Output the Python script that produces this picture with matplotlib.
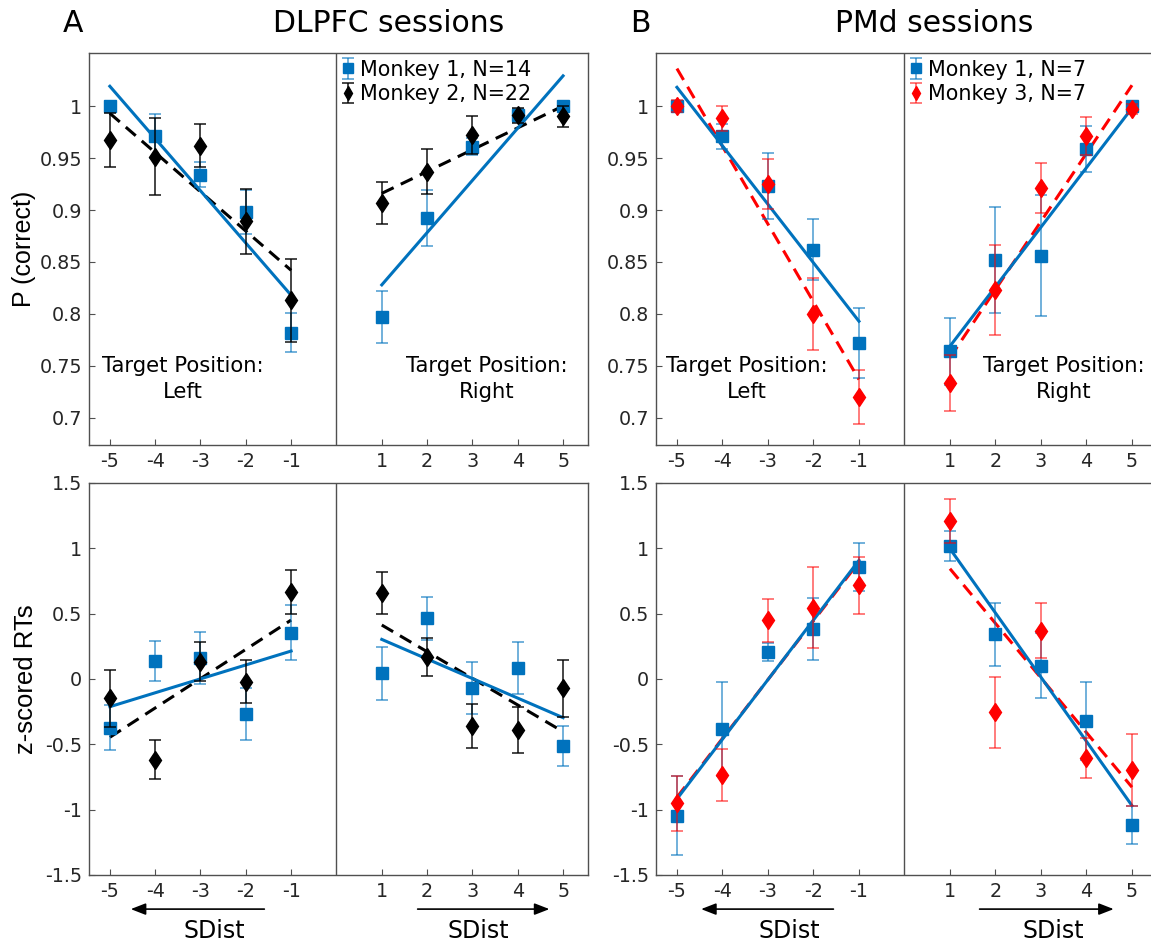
import numpy as np
import matplotlib
matplotlib.use("Agg")
import matplotlib.pyplot as plt
import matplotlib.transforms as mtransforms

plt.rcParams['font.family'] = ['DejaVu Sans']

# x positions (signed distance), left and right target positions
sdist = [-5, -4, -3, -2, -1, 1, 2, 3, 4, 5]
x_left = [-5, -1]
x_right = [1, 5]
xtick_labels = ['-5', '-4', '-3', '-2', '-1', '1', '2', '3', '4', '5']

# ---- DLPFC, P(correct) ----
dl_pc_m1 = [1.000, 0.971, 0.934, 0.898, 0.782, 0.797, 0.892, 0.961, 0.991, 1.000]
dl_pc_m1_err = [0.005, 0.021, 0.012, 0.021, 0.019, 0.025, 0.027, 0.008, 0.006, 0.003]
dl_pc_m2 = [0.967, 0.951, 0.962, 0.889, 0.813, 0.907, 0.937, 0.972, 0.991, 0.990]
dl_pc_m2_err = [0.026, 0.037, 0.021, 0.031, 0.040, 0.020, 0.022, 0.018, 0.007, 0.010]
dl_pc_m1_fit = [1.019, 0.818, 0.828, 1.029]   # left (-5,-1), right (1,5)
dl_pc_m2_fit = [0.993, 0.842, 0.916, 1.000]

# ---- DLPFC, z-scored RT ----
dl_rt_m1 = [-0.372, 0.138, 0.158, -0.268, 0.354, 0.043, 0.464, -0.071, 0.082, -0.512]
dl_rt_m1_err = [0.17, 0.15, 0.20, 0.20, 0.21, 0.20, 0.165, 0.20, 0.20, 0.15]
dl_rt_m2 = [-0.148, -0.619, 0.133, -0.020, 0.668, 0.660, 0.166, -0.357, -0.390, -0.071]
dl_rt_m2_err = [0.217, 0.15, 0.15, 0.165, 0.168, 0.162, 0.146, 0.168, 0.173, 0.22]
dl_rt_m1_fit = [-0.212, 0.214, 0.303, -0.296]
dl_rt_m2_fit = [-0.446, 0.451, 0.413, -0.403]

# ---- PMd, P(correct) ----
pm_pc_m1 = [1.000, 0.971, 0.923, 0.862, 0.772, 0.764, 0.852, 0.856, 0.959, 1.000]
pm_pc_m1_err = [0.003, 0.012, 0.032, 0.029, 0.034, 0.032, 0.051, 0.058, 0.022, 0.003]
pm_pc_m3 = [1.000, 0.988, 0.925, 0.800, 0.720, 0.734, 0.823, 0.921, 0.971, 0.997]
pm_pc_m3_err = [0.006, 0.012, 0.024, 0.035, 0.026, 0.027, 0.043, 0.024, 0.018, 0.005]
pm_pc_m1_fit = [1.018, 0.793, 0.769, 0.998]
pm_pc_m3_fit = [1.036, 0.737, 0.758, 1.020]

# ---- PMd, z-scored RT ----
pm_rt_m1 = [-1.045, -0.382, 0.205, 0.384, 0.857, 1.015, 0.341, 0.103, -0.323, -1.116]
pm_rt_m1_err = [0.30, 0.36, 0.07, 0.235, 0.18, 0.115, 0.24, 0.25, 0.30, 0.145]
pm_rt_m3 = [-0.952, -0.732, 0.448, 0.545, 0.716, 1.208, -0.255, 0.371, -0.604, -0.696]
pm_rt_m3_err = [0.21, 0.20, 0.166, 0.31, 0.217, 0.167, 0.27, 0.213, 0.15, 0.275]
pm_rt_m1_fit = [-0.918, 0.908, 0.997, -0.969]
pm_rt_m3_fit = [-0.905, 0.895, 0.844, -0.828]

BLUE = '#0072BD'
RED = '#FF0000'
SPINE = '#505050'
TXT = '#262626'


def draw_panel(ax, m1, m1_err, m1_fit, m2, m2_err, m2_fit, m2_color, ylim, yticks, yticklabels):
    dash = (0, (4.3, 2.6))
    ax.plot(x_left, m2_fit[:2], color=m2_color, lw=2.2, ls=dash, zorder=3)
    ax.plot(x_right, m2_fit[2:], color=m2_color, lw=2.2, ls=dash, zorder=3)
    ax.plot(x_left, m1_fit[:2], color=BLUE, lw=2.2, zorder=4)
    ax.plot(x_right, m1_fit[2:], color=BLUE, lw=2.2, zorder=4)
    e1 = ax.errorbar(sdist, m1, yerr=m1_err, fmt='s', color=BLUE, ms=8.6, mec=BLUE,
                     ecolor=(0, 0.447, 0.741, 0.65), elinewidth=1.2, capsize=4, capthick=1.2, zorder=5)
    ecol = (0, 0, 0, 0.85) if m2_color == 'black' else (1, 0, 0, 0.6)
    e2 = ax.errorbar(sdist, m2, yerr=m2_err, fmt='d', color=m2_color, ms=9.4, mec=m2_color,
                     ecolor=ecol, elinewidth=1.2, capsize=4, capthick=1.2, zorder=6)
    ax.axvline(0, color=SPINE, lw=1.0, zorder=1)
    ax.set_xlim(-5.46, 5.55)
    ax.set_ylim(*ylim)
    ax.set_xticks(sdist)
    ax.set_xticklabels(xtick_labels)
    ax.set_yticks(yticks)
    ax.set_yticklabels(yticklabels)
    ax.tick_params(direction='in', length=4, width=0.8, colors=SPINE, labelcolor=TXT,
                   labelsize=13.8, pad=5)
    ax.tick_params(axis='y', pad=5)
    for sp in ax.spines.values():
        sp.set_color(SPINE)
        sp.set_linewidth(1.0)
    return e1, e2


fig = plt.figure(figsize=(11.51, 9.44), dpi=100)
W, H = 1151.0, 944.0


def px_axes(left, top, right, bottom):
    return fig.add_axes([left / W, 1 - bottom / H, (right - left) / W, (bottom - top) / H])


pc_ylim = (0.674, 1.0507)
pc_ticks = [0.7, 0.75, 0.8, 0.85, 0.9, 0.95, 1.0]
pc_labels = ['0.7', '0.75', '0.8', '0.85', '0.9', '0.95', '1']
rt_ylim = (-1.5, 1.5)
rt_ticks = [-1.5, -1, -0.5, 0, 0.5, 1, 1.5]
rt_labels = ['-1.5', '-1', '-0.5', '0', '0.5', '1', '1.5']

axA1 = px_axes(89, 53.3, 588, 445)
axA2 = px_axes(89, 483, 588, 875)
axB1 = px_axes(656, 53.3, 1157, 445)
axB2 = px_axes(656, 483, 1157, 875)

eA1, eA2 = draw_panel(axA1, dl_pc_m1, dl_pc_m1_err, dl_pc_m1_fit, dl_pc_m2, dl_pc_m2_err, dl_pc_m2_fit,
                      'black', pc_ylim, pc_ticks, pc_labels)
draw_panel(axA2, dl_rt_m1, dl_rt_m1_err, dl_rt_m1_fit, dl_rt_m2, dl_rt_m2_err, dl_rt_m2_fit,
           'black', rt_ylim, rt_ticks, rt_labels)
eB1, eB2 = draw_panel(axB1, pm_pc_m1, pm_pc_m1_err, pm_pc_m1_fit, pm_pc_m3, pm_pc_m3_err, pm_pc_m3_fit,
                      RED, pc_ylim, pc_ticks, pc_labels)
draw_panel(axB2, pm_rt_m1, pm_rt_m1_err, pm_rt_m1_fit, pm_rt_m3, pm_rt_m3_err, pm_rt_m3_fit,
           RED, rt_ylim, rt_ticks, rt_labels)

axA1.set_ylabel('P (correct)', fontsize=18, color='black', family='Liberation Sans')
axA2.set_ylabel('z-scored RTs', fontsize=18.5, color='black', family='Liberation Sans')
axA1.yaxis.set_label_coords(-(89 - 36) / 499, 0.5)
axA2.yaxis.set_label_coords(-(89 - 38) / 499, 0.5)

# legends
for ax, e1, e2, labels in [(axA1, eA1, eA2, ['Monkey 1, N=14', 'Monkey 2, N=22']),
                           (axB1, eB1, eB2, ['Monkey 1, N=7', 'Monkey 3, N=7'])]:
    ax.legend([e1, e2], labels, loc='upper left',
              bbox_to_anchor=(0.49, 1.005), frameon=False, fontsize=14.9, handlelength=0.6,
              handletextpad=0.3, labelspacing=0.22, borderaxespad=0.0, markerscale=0.8)

# target position labels
for ax, xl, xr in [(axA1, -3.38, 3.31), (axB1, -3.47, 3.50)]:
    ax.text(xl, 0.7375, 'Target Position:\nLeft', ha='center', va='center', fontsize=15.2,
            linespacing=1.4, zorder=2)
    ax.text(xr, 0.7375, 'Target Position:\nRight', ha='center', va='center', fontsize=15.2,
            linespacing=1.4, zorder=2)

# SDist arrows: (tail, tip, label x) for left and right halves
arrows_A = [(-1.53, -4.60, -2.70), (1.73, 4.76, 3.12)]
arrows_B = [(-1.50, -4.53, -2.52), (1.59, 4.66, 3.27)]
for ax, arrows in [(axA2, arrows_A), (axB2, arrows_B)]:
    tr = mtransforms.blended_transform_factory(ax.transData, ax.transAxes)
    for s, e, lx in arrows:
        ax.annotate('', xy=(e, -0.087), xytext=(s, -0.087), xycoords=tr, textcoords=tr,
                    arrowprops=dict(arrowstyle='-|>,head_length=0.9,head_width=0.35',
                                    color='black', lw=1.2), annotation_clip=False)
        ax.text(lx, -0.16, 'SDist', transform=tr, ha='center', va='baseline',
                fontsize=17, clip_on=False)

# panel titles
fig.text(73 / W, 1 - 23 / H, 'A', ha='center', va='center', fontsize=21.5)
fig.text(389 / W, 1 - 23 / H, 'DLPFC sessions', ha='center', va='center', fontsize=21.5)
fig.text(640 / W, 1 - 23 / H, 'B', ha='center', va='center', fontsize=21.5)
fig.text(934 / W, 1 - 23 / H, 'PMd sessions', ha='center', va='center', fontsize=21.5)

fig.savefig('out.png', dpi=100)
